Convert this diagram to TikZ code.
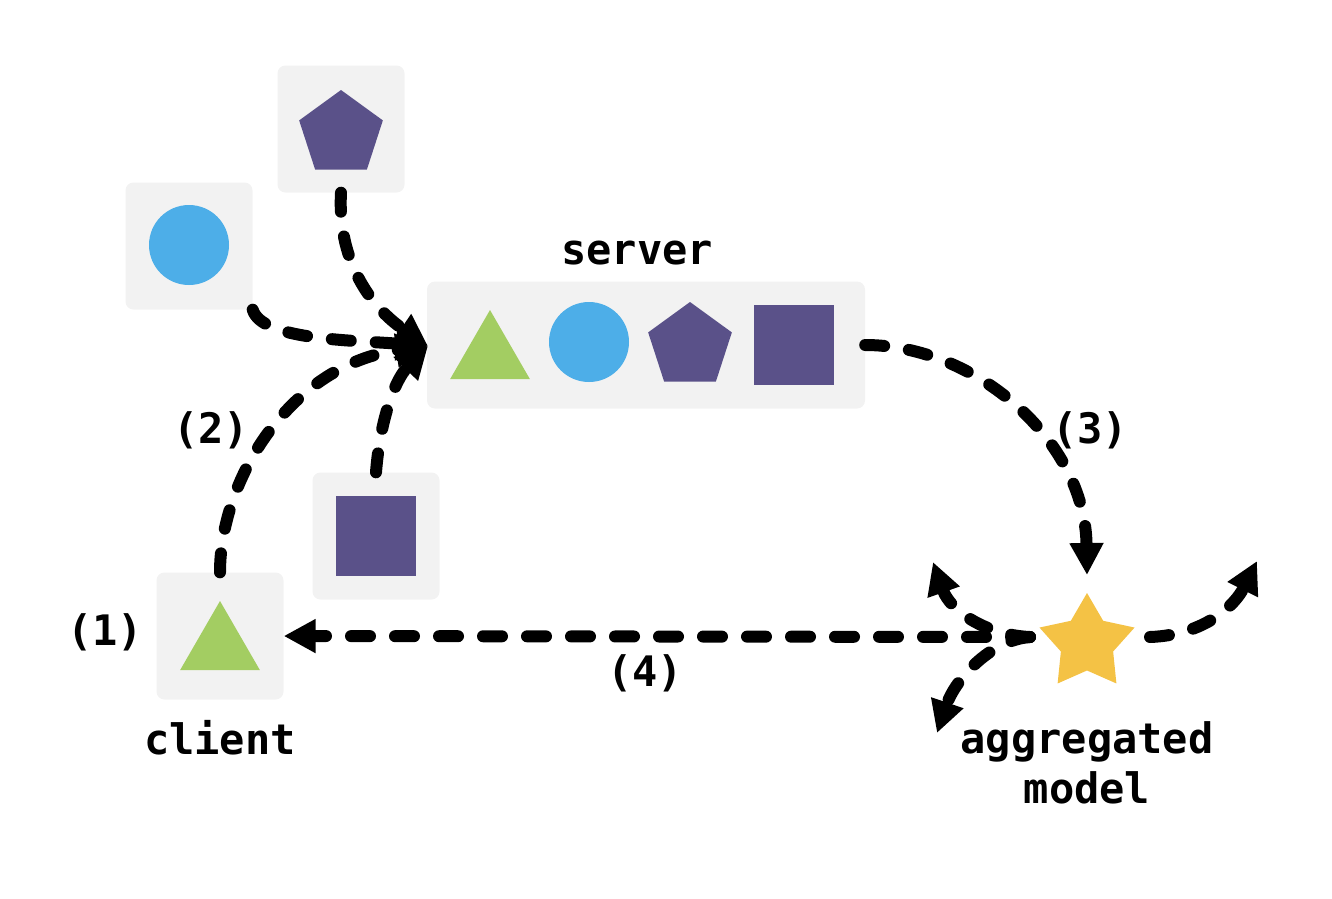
\documentclass[tikz,border=0pt]{standalone}
\usepackage{fontspec}
\setmonofont{DejaVu Sans Mono}
\usetikzlibrary{positioning,shapes.geometric,arrows.meta}
\definecolor{tilegray}{HTML}{F2F2F2}
\definecolor{pentcol}{HTML}{5A5189}
\definecolor{circcol}{HTML}{4DAEE8}
\definecolor{tricol}{HTML}{A3CD62}
\definecolor{starcol}{HTML}{F4C245}

\begin{document}
\begin{tikzpicture}[
      x=1pt, y=-1pt,
      tile/.style={
        fill=tilegray,
        rounded corners=8pt,
        minimum size=127pt,
        inner sep=0pt
      },
      tri/.style={
        regular polygon,
        regular polygon sides=3,
        fill=tricol,
        minimum size=92pt,
        inner sep=0pt
      },
      pent/.style={
        regular polygon,
        regular polygon sides=5,
        fill=pentcol,
        minimum size=88pt,
        inner sep=0pt
      },
      disc/.style={
        circle,
        fill=circcol,
        minimum size=80pt,
        inner sep=0pt
      },
      sq/.style={
        rectangle,
        fill=pentcol,
        minimum size=80pt,
        inner sep=0pt
      },
      lbl/.style={
        font=\fontsize{42}{50}\selectfont\ttfamily\bfseries,
        inner sep=0pt,
        align=center
      },
      arr/.style={
        -{Triangle[length=32pt,width=32pt]},
        line width=12pt,
        line cap=round,
        dash pattern=on 19pt off 25pt
      }
    ]
    \useasboundingbox (0,0) rectangle (1332,898);

    % tiles
    \node[tile] (ptile) at (341,129) {};
    \node[tile] (ctile) at (189,246) {};
    \node[tile, minimum width=438pt] (srv) at (646,345) {};
    \node[tile] (stile) at (376,536) {};
    \node[tile] (cli) at (220,636) {};

    % shapes
    \node[pent] (p1) at (341,134) {};
    \node[disc] (c1) at (189,245) {};
    \node[tri]  (t1) at (490,356) {};
    \node[disc] (c2) at (589,342) {};
    \node[pent] (p2) at (690,346) {};
    \node[sq]   (s2) at (794,345) {};
    \node[sq]   (s1) at (376,536) {};
    \node[tri]  (t0) at (220,647) {};
    \node[star, star points=5, star point ratio=1.82, fill=starcol,
          minimum size=100pt, inner sep=0pt] (agg) at (1087,643) {};

    % labels
    \node[lbl] (srvlbl) at (637,253) {server};
    \node[lbl] (clilbl) at (220,738) {client};
    \node[lbl] (agglbl) at (1087,763) {aggregated\\model};
    \node[lbl] (n1) at (105,632) {(1)};
    \node[lbl] (n2) at (211,430) {(2)};
    \node[lbl] (n3) at (1090,430) {(3)};
    \node[lbl] (n4) at (645,673) {(4)};

    % free ends
    \coordinate (hub) at (428,346);
    \coordinate (send) at (1030,637);
    \coordinate (rs) at (1150,637);
    \coordinate (upl) at (933,562);
    \coordinate (dnl) at (937,733);
    \coordinate (upr) at (1257,561);

    % uploads
    \draw[arr] (ptile.south) .. controls (337,265) and (375,310) .. (hub);
    \draw[arr] (ctile.south east) .. controls (262,340) and (350,340) .. (hub);
    \draw[arr] (cli.north) .. controls (220,480) and (290,365) .. (hub);
    \draw[arr] (stile.north) .. controls (380,420) and (395,380) .. (hub);

    % aggregation
    \draw[arr] (srv.east) .. controls (975,345) and (1085,440) .. (1087,575);

    % broadcast
    \draw[arr] (send) -- (cli.east);
    \draw[arr] (send) .. controls (985,635) and (950,610) .. (upl);
    \draw[arr] (send) .. controls (990,640) and (955,680) .. (dnl);
    \draw[arr] (rs) .. controls (1205,635) and (1235,605) .. (upr);
  \end{tikzpicture}
\end{document}
